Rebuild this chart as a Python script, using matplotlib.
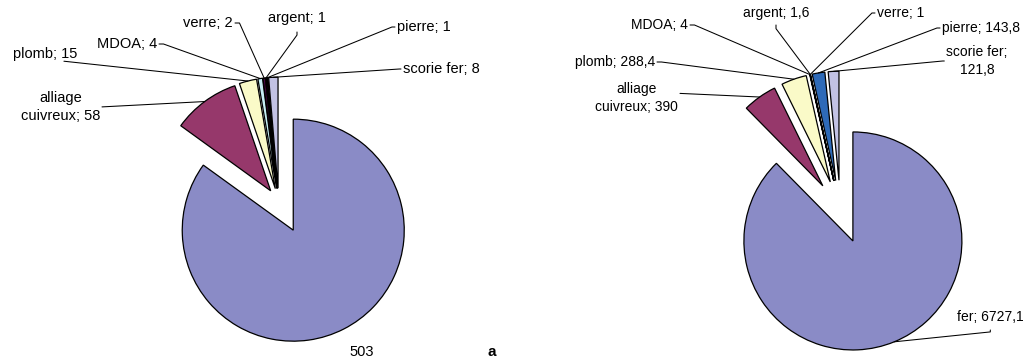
import math
import matplotlib
matplotlib.use("Agg")
import matplotlib.pyplot as plt

plt.rcParams["font.family"] = ["Liberation Sans", "DejaVu Sans"]

# data: mass per material, two assemblages
categories = ["fer", "alliage cuivreux", "plomb", "MDOA", "verre", "argent", "pierre", "scorie fer"]
values_a = [503, 58, 15, 4, 2, 1, 1, 8]
values_b = [6727.1, 390, 288.4, 4, 1, 1.6, 143.8, 121.8]

# Excel-like default pie fills
colors = ["#8a8bc6", "#96386b", "#fafac8", "#c6eef4", "#4a0a48", "#f27a7a", "#2e6ab8", "#c2c2e4"]

W, H = 1026, 360


def fmt(v):
    return f"{v:g}".replace(".", ",")


def make_label(cat, v, style):
    if style == "value":
        return fmt(v)
    txt = f"{cat}; {fmt(v)}"
    if style == "wrap_cat":
        txt = txt.replace(" ", "\n", 1)
    elif style == "wrap_val":
        txt = txt.replace("; ", ";\n")
    return txt


# label layout in figure pixels (from top-left):
# x, y, ha, relpos, angleA, arm(px), gap(px), style
layout_a = [
    (362, 352, "center", None, 0, 0, 0, "value"),
    (100, 107, "right", (1, 0.5), 0, 0, 2, "wrap_cat"),
    (13, 54, "left", (0.76, 0), -90, 0, 2, ""),
    (157, 44, "right", (1, 0.5), 0, 9, 2, ""),
    (233, 23, "right", (1, 0.5), 0, 9, 2, ""),
    (297, 18, "center", (0.5, 0), -90, 14, 7, ""),
    (397, 27, "left", (0, 0.5), 180, 7, 2, ""),
    (403, 69, "left", (0, 0.5), 180, 5, 2, ""),
]
layout_b = [
    (957, 317, "left", (0.5, 0), -90, 11, 6, ""),
    (678, 98, "right", (1, 0.65), 0, 0, 2, "wrap_cat"),
    (655, 62, "right", (1, 0.5), 0, 9, 2, ""),
    (688, 25, "right", (1, 0.5), 0, 9, 2, ""),
    (877, 13, "left", (0, 0.5), 180, 7, 2, ""),
    (776, 13, "center", (0.5, 0), -90, 12, 5, ""),
    (942, 28, "left", (0, 0.5), 180, 7, 2, ""),
    (977, 61, "center", (0, 0.5), 180, 5, 2, "wrap_val"),
]


def draw_pie(ax, values, layout, cx, cy, rad, x0, x1, fer_explode, other_explode, fs):
    explode = [fer_explode] + [other_explode] * (len(values) - 1)
    wedges, _ = ax.pie(values, colors=colors, explode=explode, startangle=90,
                       counterclock=False, radius=1,
                       wedgeprops=dict(edgecolor="black", linewidth=0.9))
    # pie centre (cx, cy) in pixels, radius rad pixels
    ax.set_xlim(-(cx - x0) / rad, (x1 - cx) / rad)
    ax.set_ylim(-(H - cy) / rad, cy / rad)
    ax.set_aspect("auto")
    ax.axis("off")

    for w, cat, v, lay in zip(wedges, categories, values, layout):
        lx, ly, ha, relpos, angA, arm, gap, style = lay
        mid = math.radians((w.theta1 + w.theta2) / 2)
        px = w.center[0] + w.r * math.cos(mid)
        py = w.center[1] + w.r * math.sin(mid)
        txt = make_label(cat, v, style)
        if relpos is None:
            ax.annotate(txt, xy=(px, py), xytext=(lx, H - ly), textcoords="figure pixels",
                        ha=ha, va="center", fontsize=fs, annotation_clip=False)
            continue
        cs = "arc,angleA=%d,armA=%.2f,rad=0" % (angA, arm * 0.72) if arm else "arc3,rad=0"
        ax.annotate(txt, xy=(px, py), xytext=(lx, H - ly), textcoords="figure pixels",
                    ha=ha, va="center", multialignment="center", linespacing=1.3,
                    fontsize=fs, annotation_clip=False,
                    arrowprops=dict(arrowstyle="-", color="black", lw=0.75,
                                    relpos=relpos, patchA=None,
                                    shrinkA=gap * 0.72, shrinkB=0,
                                    connectionstyle=cs))


fig = plt.figure(figsize=(W / 100, H / 100), dpi=100)
fig.patch.set_facecolor("white")

ax1 = fig.add_axes([0, 0, 0.5, 1])
draw_pie(ax1, values_a, layout_a, 278.6, 201.5, 111, 0, 513, 0.29, 0.12, 10.5)

ax2 = fig.add_axes([0.5, 0, 0.5, 1])
draw_pie(ax2, values_b, layout_b, 840.5, 210.7, 109, 513, 1026, 0.30, 0.28, 10)

fig.text(492 / W, 1 - 352 / H, "a", fontsize=11, fontweight="bold", ha="center", va="center")

fig.savefig("out.png", dpi=100)
